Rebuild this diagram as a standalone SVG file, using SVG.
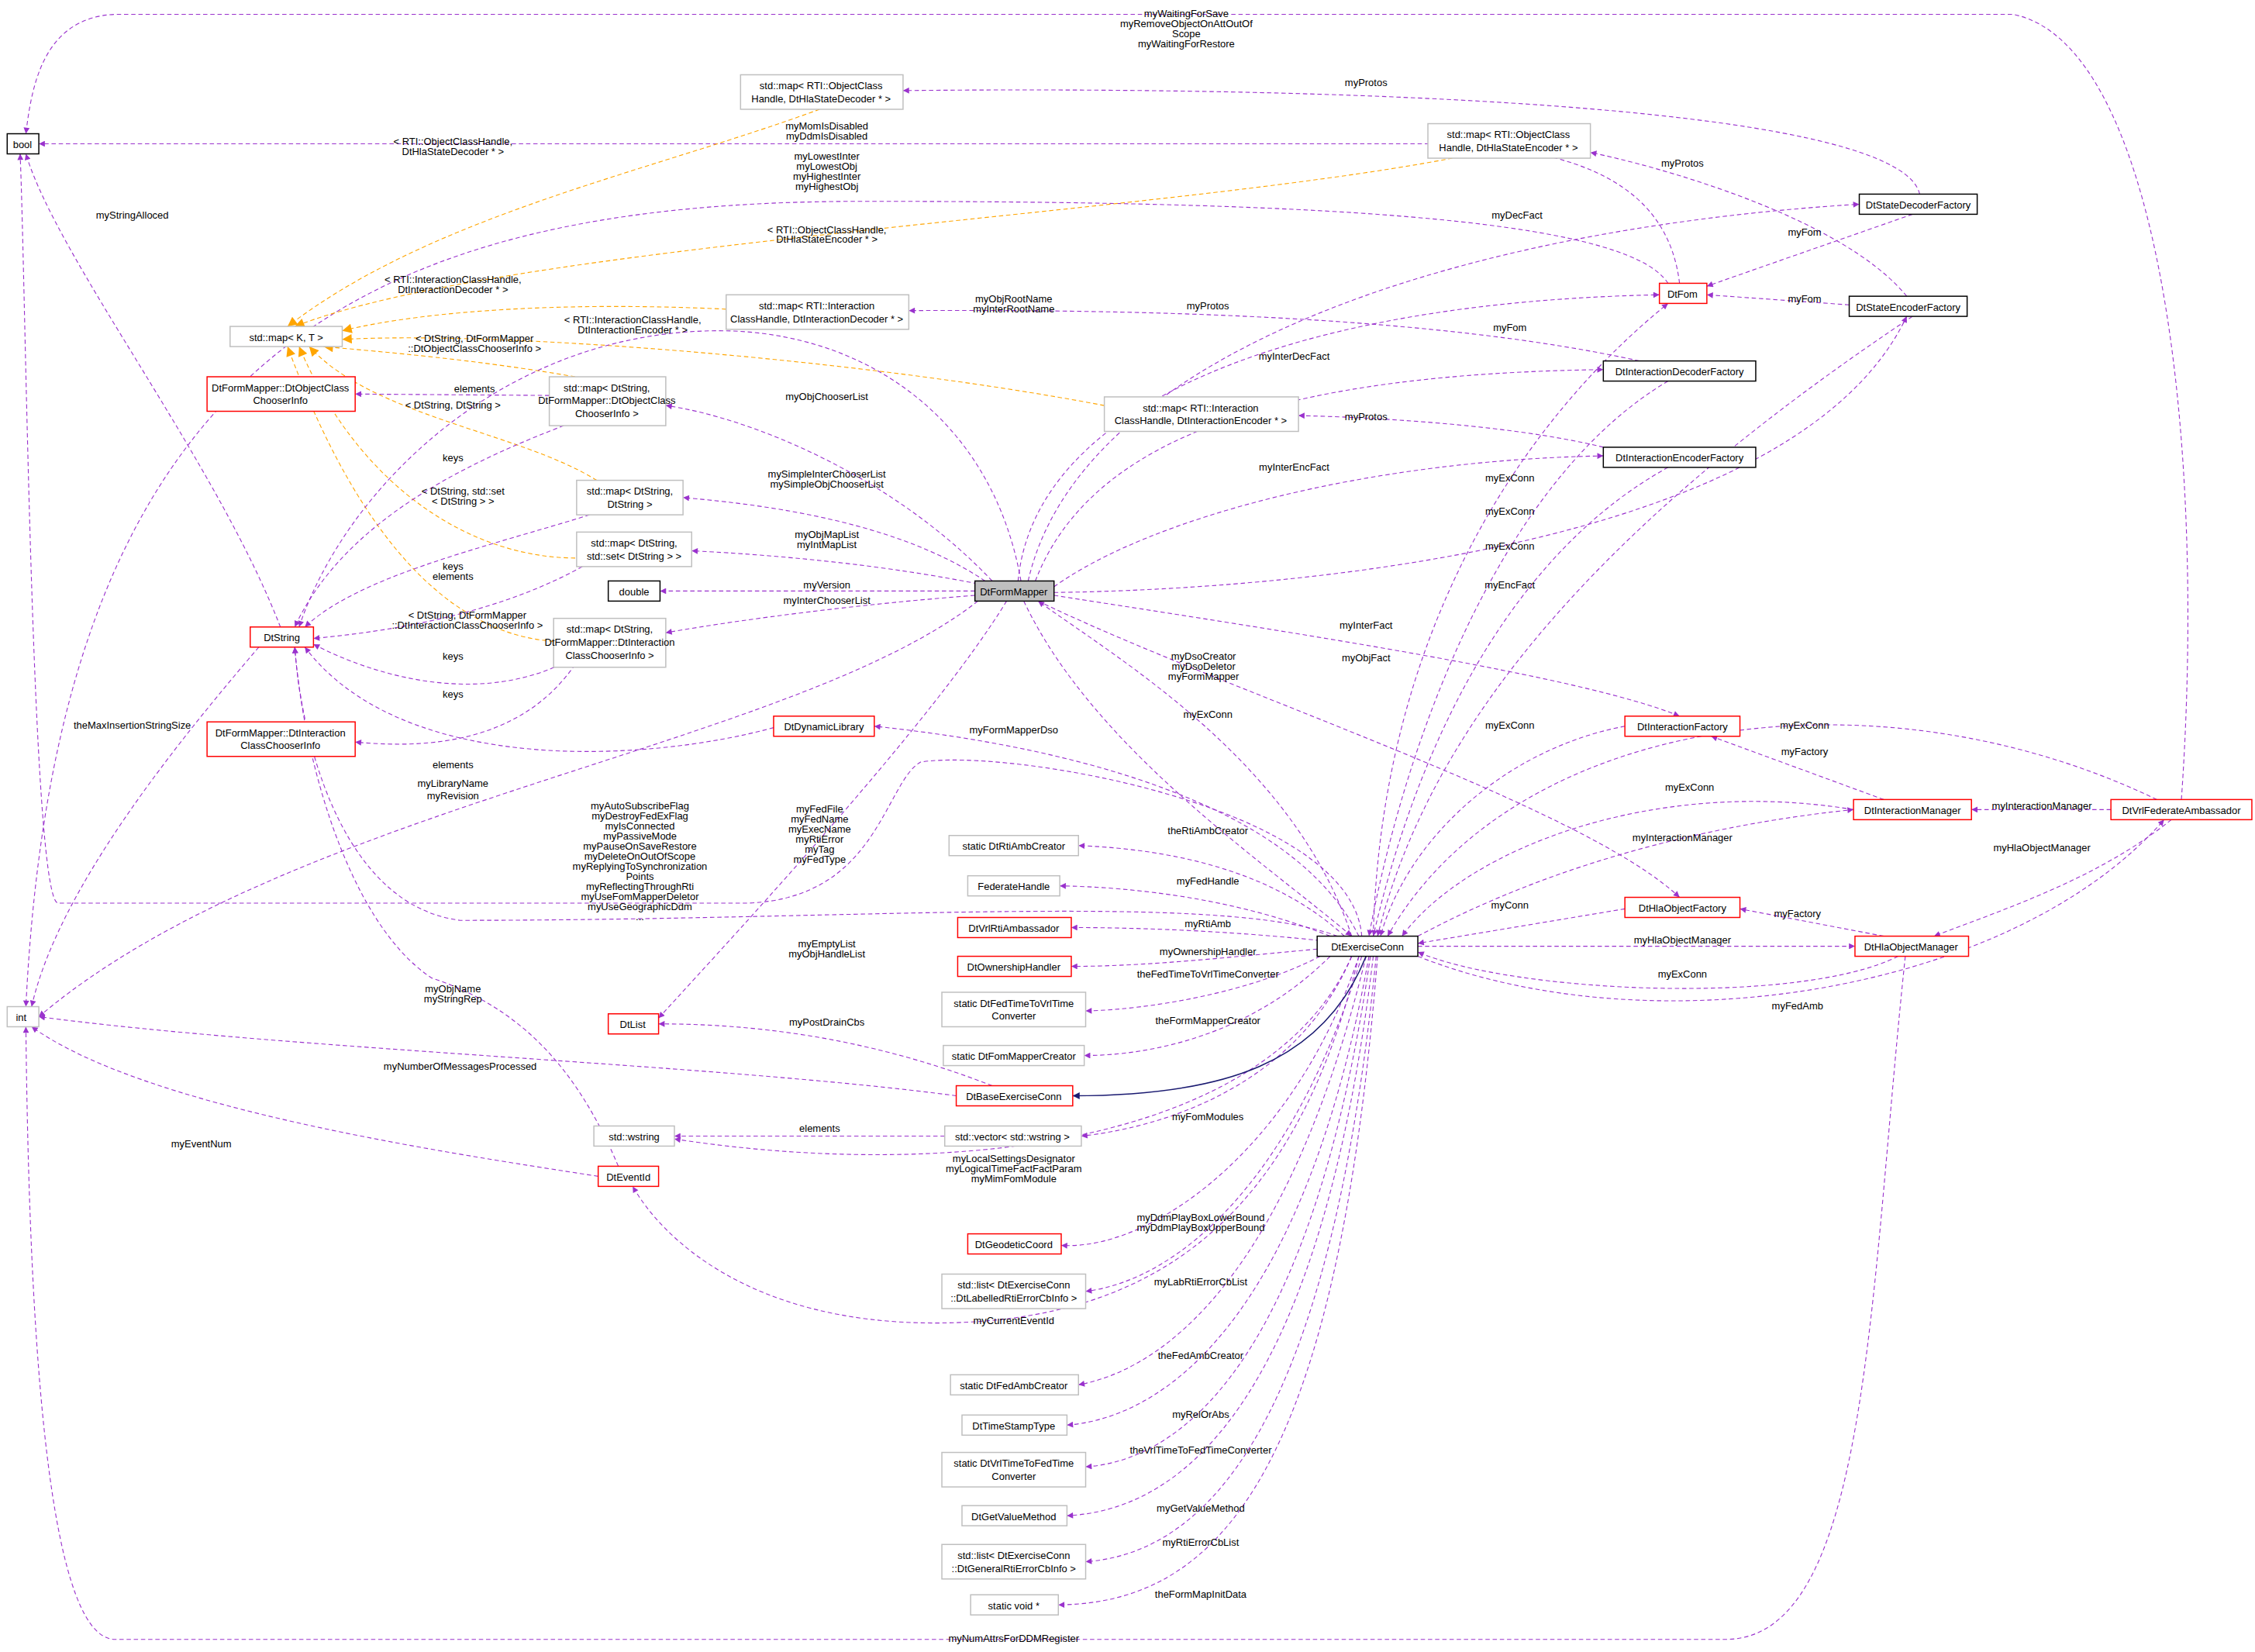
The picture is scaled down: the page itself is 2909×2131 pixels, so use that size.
<svg xmlns="http://www.w3.org/2000/svg" width="2909" height="2131" viewBox="0 0 2909 2131">
<style>
text{font-family:"Liberation Sans",Arial,sans-serif;font-size:7px;fill:#000}
.l{text-anchor:middle}
.n rect{fill:#fff;stroke:#000;stroke-width:0.8}
.g rect{stroke:#bfbfbf}
.r rect{stroke:#ff0000}
.e{fill:none;stroke:#9a32cd;stroke-width:0.6;stroke-dasharray:3,2;marker-end:url(#p)}
.o{fill:none;stroke:#ffa500;stroke-width:0.6;stroke-dasharray:3,2;marker-end:url(#or)}
.i{fill:none;stroke:#191970;stroke-width:0.8;marker-end:url(#nv)}
</style>
<defs>
<marker id="p" viewBox="0 0 10 10" refX="10" refY="5" markerWidth="9" markerHeight="7" orient="auto" markerUnits="strokeWidth"><path d="M0,0L10,5L0,10z" fill="#9a32cd"/></marker>
<marker id="or" viewBox="0 0 10 10" refX="10" refY="5" markerWidth="14" markerHeight="11" orient="auto" markerUnits="strokeWidth"><path d="M0,0L10,5L0,10z" fill="#ffa500"/></marker>
<marker id="nv" viewBox="0 0 10 10" refX="10" refY="5" markerWidth="8" markerHeight="6" orient="auto" markerUnits="strokeWidth"><path d="M0,0L10,5L0,10z" fill="#191970"/></marker>
</defs>
<rect width="2909" height="2131" fill="#fff"/>
<g transform="scale(1.855)">
<g id="edges">
<path class="e" d="M1517,556C1535,300 1500,30 1400,10L80,10C30,12 22,60 18,93"/>
<path class="e" d="M1168,197C1160,130 1100,102 1000,100L27,100"/>
<path class="e" d="M1160,197C1130,150 900,140 600,140C250,140 40,250 18,700"/>
<path class="o" d="M570,76C450,120 300,150 200,227"/>
<path class="o" d="M1010,110C800,150 350,170 205,227"/>
<path class="o" d="M505,215C400,210 300,215 238,230"/>
<path class="o" d="M768,282C600,250 350,230 238,236"/>
<path class="o" d="M400,262C330,250 270,245 225,241"/>
<path class="o" d="M415,334C360,300 260,290 215,241"/>
<path class="o" d="M405,388C330,390 250,340 208,241"/>
<path class="o" d="M385,446C300,440 240,350 200,241"/>
<path class="e" d="M382,275L247,274"/>
<path class="e" d="M392,296C330,320 240,360 205,436"/>
<path class="e" d="M410,358C340,380 250,400 212,436"/>
<path class="e" d="M405,394C340,430 260,440 218,444"/>
<path class="e" d="M390,462C330,490 260,470 218,448"/>
<path class="e" d="M400,462C360,520 290,520 247,516"/>
<path class="e" d="M195,436C150,320 40,180 18,107"/>
<path class="e" d="M180,450C120,520 40,620 22,700"/>
<path class="e" d="M538,506C450,530 280,540 212,450"/>
<path class="e" d="M1335,135C1320,70 900,60 628,63"/>
<path class="e" d="M1326,206C1280,150 1150,115 1106,106"/>
<path class="e" d="M1330,149L1187,199"/>
<path class="e" d="M1286,212L1187,205"/>
<path class="e" d="M1140,251C1000,220 800,215 632,216"/>
<path class="e" d="M1115,311C1050,295 950,290 903,289"/>
<path class="e" d="M715,404C750,250 1000,160 1293,142"/>
<path class="e" d="M708,404C720,280 900,210 1154,205"/>
<path class="e" d="M955,651C960,450 1050,300 1160,211"/>
<path class="e" d="M720,404C760,300 900,260 1115,257"/>
<path class="e" d="M733,408C800,360 950,320 1115,317"/>
<path class="e" d="M733,412C900,410 1250,380 1326,220"/>
<path class="e" d="M733,414C900,440 1100,470 1168,498"/>
<path class="e" d="M722,418C850,480 1100,560 1168,624"/>
<path class="e" d="M690,404C620,330 520,290 463,282"/>
<path class="e" d="M685,404C620,360 520,350 475,346"/>
<path class="e" d="M680,406C600,390 520,385 481,383"/>
<path class="e" d="M678,411L459,411"/>
<path class="e" d="M678,414C600,420 520,430 463,440"/>
<path class="e" d="M680,418C550,520 200,560 27,707"/>
<path class="e" d="M700,418C650,500 520,640 458,708"/>
<path class="e" d="M710,404C690,290 600,230 500,230C350,230 240,340 208,436"/>
<path class="e" d="M940,651C900,530 780,460 722,418"/>
<path class="e" d="M712,418C760,520 880,600 940,651"/>
<path class="e" d="M1160,265C1050,330 980,500 952,651"/>
<path class="e" d="M1160,325C1060,380 990,500 955,651"/>
<path class="e" d="M1330,220C1150,340 1000,480 958,651"/>
<path class="e" d="M1130,505C1050,520 980,580 960,651"/>
<path class="e" d="M1289,563C1150,540 1020,590 975,651"/>
<path class="e" d="M1500,556C1300,460 1050,500 965,651"/>
<path class="e" d="M1320,665C1250,700 1050,690 986,662"/>
<path class="e" d="M986,651C1100,590 1220,570 1289,563"/>
<path class="e" d="M1130,632L986,656"/>
<path class="e" d="M986,658L1290,658"/>
<path class="e" d="M986,665C1150,730 1400,690 1505,570"/>
<path class="e" d="M1310,556L1190,512"/>
<path class="e" d="M1310,651L1210,632"/>
<path class="e" d="M1468,563L1371,563"/>
<path class="e" d="M1510,570C1460,610 1400,630 1345,651"/>
<path class="e" d="M1325,665C1300,900 1300,1140 1200,1140L80,1140C30,1140 20,900 18,714"/>
<path class="e" d="M945,651C900,560 750,520 608,505"/>
<path class="e" d="M947,651C940,560 700,520 640,530C615,545 610,625 520,628L40,628C22,620 18,200 14,107"/>
<path class="e" d="M930,651C850,620 600,640 320,640C240,630 210,520 205,450"/>
<path class="e" d="M935,651C880,600 800,590 750,588"/>
<path class="e" d="M925,651C860,625 790,617 737,616"/>
<path class="e" d="M918,654C860,648 800,645 745,645"/>
<path class="e" d="M916,660C860,665 800,672 745,672"/>
<path class="e" d="M918,665C870,690 800,702 755,703"/>
<path class="e" d="M925,665C870,720 800,734 754,734"/>
<path class="e" d="M940,665C900,760 800,785 752,790"/>
<path class="e" d="M940,665C880,800 650,820 469,792"/>
<path class="e" d="M945,665C900,800 800,870 738,866"/>
<path class="e" d="M947,665C900,820 820,890 755,898"/>
<path class="e" d="M945,665C900,850 800,920 650,920C520,920 460,860 440,825"/>
<path class="e" d="M950,665C900,870 820,950 750,963"/>
<path class="e" d="M952,665C910,900 820,985 742,991"/>
<path class="e" d="M953,665C915,930 830,1015 755,1020"/>
<path class="e" d="M955,665C920,960 830,1050 742,1054"/>
<path class="e" d="M957,665C925,990 840,1080 755,1086"/>
<path class="e" d="M958,665C930,1020 850,1115 736,1116"/>
<path class="e" d="M657,790L469,790"/>
<path class="e" d="M690,755C600,720 520,712 458,712"/>
<path class="e" d="M665,762C500,740 200,730 27,707"/>
<path class="e" d="M416,818C300,800 100,770 22,714"/>
<path class="e" d="M430,811C400,740 360,700 300,680C240,640 210,520 205,450"/>
<path class="i" d="M950,665C920,740 850,762 746,762"/>
</g>
<g id="labels">
<text class="l" x="825" y="12">myWaitingForSave</text><text class="l" x="825" y="19">myRemoveObjectOnAttOutOf</text><text class="l" x="825" y="26">Scope</text><text class="l" x="825" y="33">myWaitingForRestore</text>
<text class="l" x="575" y="90">myMomIsDisabled</text><text class="l" x="575" y="97">myDdmIsDisabled</text>
<text class="l" x="575" y="111">myLowestInter</text><text class="l" x="575" y="118">myLowestObj</text><text class="l" x="575" y="125">myHighestInter</text><text class="l" x="575" y="132">myHighestObj</text>
<text class="l" x="315" y="101">&lt; RTI::ObjectClassHandle,</text><text class="l" x="315" y="108">DtHlaStateDecoder * &gt;</text>
<text class="l" x="575" y="162">&lt; RTI::ObjectClassHandle,</text><text class="l" x="575" y="169">DtHlaStateEncoder * &gt;</text>
<text class="l" x="315" y="197">&lt; RTI::InteractionClassHandle,</text><text class="l" x="315" y="204">DtInteractionDecoder * &gt;</text>
<text class="l" x="440" y="225">&lt; RTI::InteractionClassHandle,</text><text class="l" x="440" y="232">DtInteractionEncoder * &gt;</text>
<text class="l" x="330" y="238">&lt; DtString, DtFormMapper</text><text class="l" x="330" y="245">::DtObjectClassChooserInfo &gt;</text>
<text class="l" x="330" y="273">elements</text>
<text class="l" x="315" y="284">&lt; DtString, DtString &gt;</text>
<text class="l" x="315" y="321">keys</text>
<text class="l" x="322" y="344">&lt; DtString, std::set</text><text class="l" x="322" y="351">&lt; DtString &gt; &gt;</text>
<text class="l" x="315" y="396">keys</text><text class="l" x="315" y="403">elements</text>
<text class="l" x="325" y="430">&lt; DtString, DtFormMapper</text><text class="l" x="325" y="437">::DtInteractionClassChooserInfo &gt;</text>
<text class="l" x="315" y="459">keys</text>
<text class="l" x="315" y="485">keys</text>
<text class="l" x="315" y="534">elements</text>
<text class="l" x="92" y="152">myStringAlloced</text>
<text class="l" x="92" y="507">theMaxInsertionStringSize</text>
<text class="l" x="315" y="547">myLibraryName</text>
<text class="l" x="315" y="556">myRevision</text>
<text class="l" x="950" y="60">myProtos</text>
<text class="l" x="1170" y="116">myProtos</text>
<text class="l" x="1255" y="164">myFom</text>
<text class="l" x="1255" y="210">myFom</text>
<text class="l" x="840" y="215">myProtos</text>
<text class="l" x="950" y="292">myProtos</text>
<text class="l" x="1055" y="152">myDecFact</text>
<text class="l" x="1050" y="230">myFom</text>
<text class="l" x="900" y="250">myInterDecFact</text>
<text class="l" x="900" y="327">myInterEncFact</text>
<text class="l" x="1050" y="409">myEncFact</text>
<text class="l" x="950" y="437">myInterFact</text>
<text class="l" x="950" y="460">myObjFact</text>
<text class="l" x="575" y="278">myObjChooserList</text>
<text class="l" x="575" y="332">mySimpleInterChooserList</text><text class="l" x="575" y="339">mySimpleObjChooserList</text>
<text class="l" x="575" y="374">myObjMapList</text><text class="l" x="575" y="381">myIntMapList</text>
<text class="l" x="575" y="409">myVersion</text>
<text class="l" x="575" y="420">myInterChooserList</text>
<text class="l" x="575" y="659">myEmptyList</text><text class="l" x="575" y="666">myObjHandleList</text>
<text class="l" x="705" y="210">myObjRootName</text><text class="l" x="705" y="217">myInterRootName</text>
<text class="l" x="837" y="459">myDsoCreator</text><text class="l" x="837" y="466">myDsoDeletor</text><text class="l" x="837" y="473">myFormMapper</text>
<text class="l" x="840" y="499">myExConn</text>
<text class="l" x="1050" y="335">myExConn</text>
<text class="l" x="1050" y="358">myExConn</text>
<text class="l" x="1050" y="382">myExConn</text>
<text class="l" x="1050" y="507">myExConn</text>
<text class="l" x="1175" y="550">myExConn</text>
<text class="l" x="1255" y="507">myExConn</text>
<text class="l" x="1170" y="680">myExConn</text>
<text class="l" x="1170" y="585">myInteractionManager</text>
<text class="l" x="1050" y="632">myConn</text>
<text class="l" x="1170" y="656">myHlaObjectManager</text>
<text class="l" x="1250" y="702">myFedAmb</text>
<text class="l" x="1255" y="525">myFactory</text>
<text class="l" x="1250" y="638">myFactory</text>
<text class="l" x="1420" y="563">myInteractionManager</text>
<text class="l" x="1420" y="592">myHlaObjectManager</text>
<text class="l" x="705" y="1142">myNumAttrsForDDMRegister</text>
<text class="l" x="705" y="510">myFormMapperDso</text>
<text class="l" x="445" y="563">myAutoSubscribeFlag</text><text class="l" x="445" y="570">myDestroyFedExFlag</text><text class="l" x="445" y="577">myIsConnected</text><text class="l" x="445" y="584">myPassiveMode</text><text class="l" x="445" y="591">myPauseOnSaveRestore</text><text class="l" x="445" y="598">myDeleteOnOutOfScope</text><text class="l" x="445" y="605">myReplyingToSynchronization</text><text class="l" x="445" y="612">Points</text><text class="l" x="445" y="619">myReflectingThroughRti</text><text class="l" x="445" y="626">myUseFomMapperDeletor</text><text class="l" x="445" y="633">myUseGeographicDdm</text><text class="l" x="445" y="640">...</text>
<text class="l" x="570" y="565">myFedFile</text><text class="l" x="570" y="572">myFedName</text><text class="l" x="570" y="579">myExecName</text><text class="l" x="570" y="586">myRtiError</text><text class="l" x="570" y="593">myTag</text><text class="l" x="570" y="600">myFedType</text>
<text class="l" x="840" y="580">theRtiAmbCreator</text>
<text class="l" x="840" y="615">myFedHandle</text>
<text class="l" x="840" y="645">myRtiAmb</text>
<text class="l" x="840" y="664">myOwnershipHandler</text>
<text class="l" x="840" y="680">theFedTimeToVrlTimeConverter</text>
<text class="l" x="840" y="712">theFormMapperCreator</text>
<text class="l" x="840" y="779">myFomModules</text>
<text class="l" x="705" y="808">myLocalSettingsDesignator</text><text class="l" x="705" y="815">myLogicalTimeFactFactParam</text><text class="l" x="705" y="822">myMimFomModule</text>
<text class="l" x="835" y="849">myDdmPlayBoxLowerBound</text><text class="l" x="835" y="856">myDdmPlayBoxUpperBound</text>
<text class="l" x="835" y="894">myLabRtiErrorCbList</text>
<text class="l" x="705" y="921">myCurrentEventId</text>
<text class="l" x="835" y="945">theFedAmbCreator</text>
<text class="l" x="835" y="986">myRelOrAbs</text>
<text class="l" x="835" y="1011">theVrlTimeToFedTimeConverter</text>
<text class="l" x="835" y="1051">myGetValueMethod</text>
<text class="l" x="835" y="1075">myRtiErrorCbList</text>
<text class="l" x="835" y="1111">theFormMapInitData</text>
<text class="l" x="570" y="787">elements</text>
<text class="l" x="575" y="713">myPostDrainCbs</text>
<text class="l" x="320" y="744">myNumberOfMessagesProcessed</text>
<text class="l" x="140" y="798">myEventNum</text>
<text class="l" x="315" y="690">myObjName</text><text class="l" x="315" y="697">myStringRep</text>
</g>
<g id="n_bool" class="n"><rect x="5" y="93" width="22" height="14"/><text x="9" y="103">bool</text></g>
<g id="n_int" class="n g"><rect x="5" y="700" width="22" height="14"/><text x="11" y="710">int</text></g>
<g id="n_mapKT" class="n g"><rect x="160" y="227" width="78" height="14"/><text class="l" x="199" y="237">std::map&lt; K, T &gt;</text></g>
<g id="n_occi" class="n r"><rect x="144" y="262" width="103" height="24"/><text class="l" x="195" y="272">DtFormMapper::DtObjectClass</text><text class="l" x="195" y="281">ChooserInfo</text></g>
<g id="n_dtstring" class="n r"><rect x="174" y="436" width="44" height="14"/><text class="l" x="196" y="446">DtString</text></g>
<g id="n_icci" class="n r"><rect x="144" y="502" width="103" height="24"/><text class="l" x="195" y="512">DtFormMapper::DtInteraction</text><text class="l" x="195" y="521">ClassChooserInfo</text></g>
<g id="n_mapdec" class="n g"><rect x="515" y="52" width="113" height="24"/><text class="l" x="571" y="62">std::map&lt; RTI::ObjectClass</text><text class="l" x="571" y="71">Handle, DtHlaStateDecoder * &gt;</text></g>
<g id="n_mapenc" class="n g"><rect x="993" y="86" width="113" height="24"/><text class="l" x="1049" y="96">std::map&lt; RTI::ObjectClass</text><text class="l" x="1049" y="105">Handle, DtHlaStateEncoder * &gt;</text></g>
<g id="n_mapidec" class="n g"><rect x="505" y="205" width="127" height="24"/><text class="l" x="568" y="215">std::map&lt; RTI::Interaction</text><text class="l" x="568" y="224">ClassHandle, DtInteractionDecoder * &gt;</text></g>
<g id="n_mapocc" class="n g"><rect x="382" y="262" width="81" height="34"/><text class="l" x="422" y="272">std::map&lt; DtString,</text><text class="l" x="422" y="281">DtFormMapper::DtObjectClass</text><text class="l" x="422" y="290">ChooserInfo &gt;</text></g>
<g id="n_mapienc" class="n g"><rect x="768" y="276" width="135" height="24"/><text class="l" x="835" y="286">std::map&lt; RTI::Interaction</text><text class="l" x="835" y="295">ClassHandle, DtInteractionEncoder * &gt;</text></g>
<g id="n_mapss" class="n g"><rect x="401" y="334" width="74" height="24"/><text class="l" x="438" y="344">std::map&lt; DtString,</text><text class="l" x="438" y="353">DtString &gt;</text></g>
<g id="n_mapset" class="n g"><rect x="401" y="370" width="80" height="24"/><text class="l" x="441" y="380">std::map&lt; DtString,</text><text class="l" x="441" y="389">std::set&lt; DtString &gt; &gt;</text></g>
<g id="n_double" class="n"><rect x="423" y="404" width="36" height="14"/><text class="l" x="441" y="414">double</text></g>
<g id="n_mapicc" class="n g"><rect x="385" y="430" width="78" height="34"/><text class="l" x="424" y="440">std::map&lt; DtString,</text><text class="l" x="424" y="449">DtFormMapper::DtInteraction</text><text class="l" x="424" y="458">ClassChooserInfo &gt;</text></g>
<g id="n_fm" class="n"><rect x="678" y="404" width="55" height="14" style="fill:#bfbfbf"/><text class="l" x="705" y="414">DtFormMapper</text></g>
<g id="n_sdf" class="n"><rect x="1293" y="135" width="82" height="14"/><text class="l" x="1334" y="145">DtStateDecoderFactory</text></g>
<g id="n_fom" class="n r"><rect x="1154" y="197" width="33" height="14"/><text class="l" x="1170" y="207">DtFom</text></g>
<g id="n_sef" class="n"><rect x="1286" y="206" width="82" height="14"/><text class="l" x="1327" y="216">DtStateEncoderFactory</text></g>
<g id="n_idf" class="n"><rect x="1115" y="251" width="106" height="14"/><text class="l" x="1168" y="261">DtInteractionDecoderFactory</text></g>
<g id="n_ief" class="n"><rect x="1115" y="311" width="106" height="14"/><text class="l" x="1168" y="321">DtInteractionEncoderFactory</text></g>
<g id="n_if" class="n r"><rect x="1130" y="498" width="80" height="14"/><text class="l" x="1170" y="508">DtInteractionFactory</text></g>
<g id="n_dl" class="n r"><rect x="538" y="498" width="70" height="14"/><text class="l" x="573" y="508">DtDynamicLibrary</text></g>
<g id="n_rac" class="n g"><rect x="660" y="581" width="90" height="14"/><text class="l" x="705" y="591">static DtRtiAmbCreator</text></g>
<g id="n_fh" class="n g"><rect x="673" y="609" width="64" height="14"/><text class="l" x="705" y="619">FederateHandle</text></g>
<g id="n_vra" class="n r"><rect x="666" y="638" width="79" height="14"/><text class="l" x="705" y="648">DtVrlRtiAmbassador</text></g>
<g id="n_oh" class="n r"><rect x="666" y="665" width="79" height="14"/><text class="l" x="705" y="675">DtOwnershipHandler</text></g>
<g id="n_ftv" class="n g"><rect x="655" y="690" width="100" height="24"/><text class="l" x="705" y="700">static DtFedTimeToVrlTime</text><text class="l" x="705" y="709">Converter</text></g>
<g id="n_fmc" class="n g"><rect x="656" y="727" width="98" height="14"/><text class="l" x="705" y="737">static DtFomMapperCreator</text></g>
<g id="n_list" class="n r"><rect x="423" y="705" width="35" height="14"/><text class="l" x="440" y="715">DtList</text></g>
<g id="n_bec" class="n r"><rect x="665" y="755" width="81" height="14"/><text class="l" x="705" y="765">DtBaseExerciseConn</text></g>
<g id="n_ws" class="n g"><rect x="413" y="783" width="56" height="14"/><text class="l" x="441" y="793">std::wstring</text></g>
<g id="n_vec" class="n g"><rect x="657" y="783" width="95" height="14"/><text class="l" x="704" y="793">std::vector&lt; std::wstring &gt;</text></g>
<g id="n_eid" class="n r"><rect x="416" y="811" width="42" height="14"/><text class="l" x="437" y="821">DtEventId</text></g>
<g id="n_geo" class="n r"><rect x="673" y="858" width="65" height="14"/><text class="l" x="705" y="868">DtGeodeticCoord</text></g>
<g id="n_lab" class="n g"><rect x="655" y="886" width="100" height="24"/><text class="l" x="705" y="896">std::list&lt; DtExerciseConn</text><text class="l" x="705" y="905">::DtLabelledRtiErrorCbInfo &gt;</text></g>
<g id="n_fac" class="n g"><rect x="661" y="956" width="89" height="14"/><text class="l" x="705" y="966">static DtFedAmbCreator</text></g>
<g id="n_tst" class="n g"><rect x="669" y="984" width="73" height="14"/><text class="l" x="705" y="994">DtTimeStampType</text></g>
<g id="n_vtf" class="n g"><rect x="655" y="1010" width="100" height="24"/><text class="l" x="705" y="1020">static DtVrlTimeToFedTime</text><text class="l" x="705" y="1029">Converter</text></g>
<g id="n_gvm" class="n g"><rect x="669" y="1047" width="73" height="14"/><text class="l" x="705" y="1057">DtGetValueMethod</text></g>
<g id="n_gen" class="n g"><rect x="655" y="1074" width="100" height="24"/><text class="l" x="705" y="1084">std::list&lt; DtExerciseConn</text><text class="l" x="705" y="1093">::DtGeneralRtiErrorCbInfo &gt;</text></g>
<g id="n_sv" class="n g"><rect x="675" y="1109" width="61" height="14"/><text class="l" x="705" y="1119">static void *</text></g>
<g id="n_ec" class="n"><rect x="916" y="651" width="70" height="14"/><text class="l" x="951" y="661">DtExerciseConn</text></g>
<g id="n_im" class="n r"><rect x="1289" y="556" width="82" height="14"/><text class="l" x="1330" y="566">DtInteractionManager</text></g>
<g id="n_hof" class="n r"><rect x="1130" y="624" width="80" height="14"/><text class="l" x="1170" y="634">DtHlaObjectFactory</text></g>
<g id="n_hom" class="n r"><rect x="1290" y="651" width="79" height="14"/><text class="l" x="1329" y="661">DtHlaObjectManager</text></g>
<g id="n_vfa" class="n r"><rect x="1468" y="556" width="98" height="14"/><text class="l" x="1517" y="566">DtVrlFederateAmbassador</text></g>
</g>
</svg>
